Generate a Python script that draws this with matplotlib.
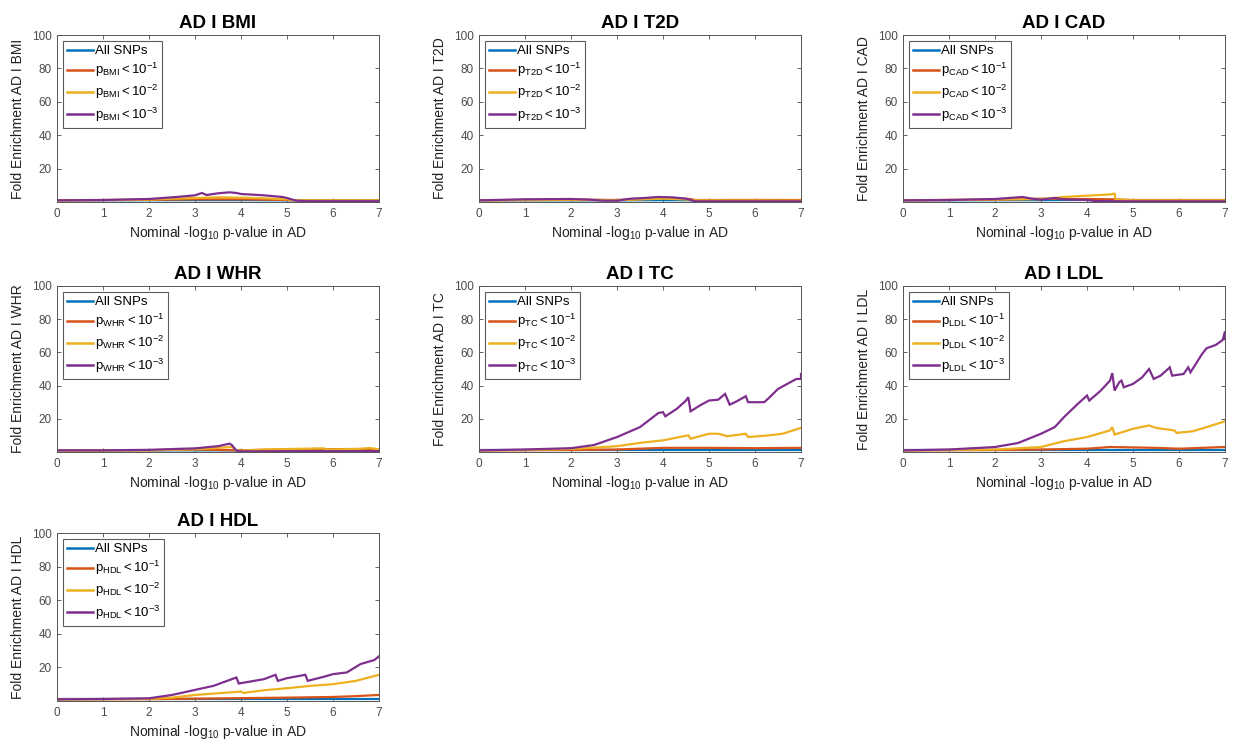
import matplotlib
matplotlib.use("Agg")
import matplotlib.pyplot as plt
from matplotlib.lines import Line2D

plt.rcParams['font.family'] = ['Liberation Sans', 'DejaVu Sans']
plt.rcParams['mathtext.fontset'] = 'custom'
plt.rcParams['mathtext.rm'] = 'Liberation Sans'
plt.rcParams['mathtext.it'] = 'Liberation Sans'

# ---------------- data ----------------
traits = ["BMI", "T2D", "CAD", "WHR", "TC", "LDL", "HDL"]
series_names = ["All SNPs", "p < 1e-1", "p < 1e-2", "p < 1e-3"]
xticks = [0, 1, 2, 3, 4, 5, 6, 7]
yticks = [20, 40, 60, 80, 100]

# BMI
bmi_all_x = [0, 3, 4, 5, 7]
bmi_all_y = [1, 1.1, 1.1, 1, 1]
bmi_p1_x = [0, 2, 3, 4, 5, 5.2, 7]
bmi_p1_y = [1, 1.3, 1.6, 1.6, 1.2, 1, 1]
bmi_p2_x = [0, 2, 2.5, 3, 3.5, 4, 4.5, 5, 5.2, 7]
bmi_p2_y = [1, 1.4, 2, 2.4, 2.8, 2.6, 2.2, 1.6, 1, 1]
bmi_p3_x = [0, 1, 2, 2.6, 3.0, 3.15, 3.25, 3.5, 3.75, 3.9, 4.0, 4.5, 4.9, 5.0, 5.2, 5.4, 7]
bmi_p3_y = [1, 1.2, 1.8, 3, 4, 5.4, 4.2, 5.2, 5.8, 5.4, 4.8, 4, 3, 2.4, 0.8, 0.5, 0.5]

# T2D
t2d_all_x = [0, 3, 4, 5, 7]
t2d_all_y = [1, 1, 1.1, 1, 1]
t2d_p1_x = [0, 1, 2, 3, 3.5, 4, 4.6, 4.7, 6.5, 7]
t2d_p1_y = [1, 1.3, 1.5, 1.2, 1.8, 2.2, 1.8, 1.2, 1.2, 1.2]
t2d_p2_x = [0, 2, 3, 3.5, 4, 4.5, 4.7, 7]
t2d_p2_y = [1, 1.2, 1.1, 1.5, 2, 1.5, 1, 0.8]
t2d_p3_x = [0, 1, 2, 2.4, 2.7, 3.0, 3.3, 3.6, 3.9, 4.2, 4.5, 4.7, 7]
t2d_p3_y = [1, 1.6, 1.8, 1.4, 0.8, 0.8, 2, 2.4, 3, 2.8, 2, 0.4, 0.4]

# CAD
cad_all_x = [0, 3, 3.5, 4.2, 4.4, 7]
cad_all_y = [1, 1.1, 1.2, 1.2, 1, 1]
cad_p1_x = [0, 1, 2, 3, 3.5, 4, 4.6, 5, 7]
cad_p1_y = [1, 1.2, 1.4, 2, 1.8, 1.8, 1.6, 1.2, 1.2]
cad_p2_x = [0, 2, 3, 3.5, 4, 4.5, 4.6, 4.62, 5, 7]
cad_p2_y = [1, 1.5, 1.7, 3, 3.8, 4.5, 5, 1.5, 1, 1]
cad_p3_x = [0, 1, 2, 2.6, 2.8, 3.0, 3.3, 3.5, 4.0, 4.2, 5, 7]
cad_p3_y = [1, 1.2, 1.8, 3, 2, 1.4, 2.4, 1.6, 1.2, 0.5, 0.4, 0.4]

# WHR
whr_all_x = [0, 3.9, 4.0, 7]
whr_all_y = [1, 1, 0.6, 0.6]
whr_p1_x = [0, 2, 3, 3.9, 4.5, 5, 6.5, 7]
whr_p1_y = [1, 1.1, 1.5, 1, 1.3, 1.6, 1.8, 1.4]
whr_p2_x = [0, 2, 3, 3.5, 3.8, 3.9, 4.0, 4.5, 5, 5.8, 5.85, 6.5, 6.8, 7]
whr_p2_y = [1, 1, 1.6, 2.5, 3, 1, 0.8, 1.5, 1.8, 2.2, 1.5, 1.8, 2.4, 1.6]
whr_p3_x = [0, 1, 2, 3, 3.5, 3.75, 3.8, 3.9, 4.0, 7]
whr_p3_y = [1, 1, 1.3, 2.2, 3.5, 5, 4.2, 0.8, 0.4, 0.5]

# TC
tc_all_x = [0, 3, 5, 7]
tc_all_y = [1, 1, 1, 1]
tc_p1_x = [0, 2, 3, 4, 5, 6, 7]
tc_p1_y = [1, 1.2, 1.5, 2.5, 2.5, 2.3, 2.5]
tc_p2_x = [0, 1, 2, 2.5, 3, 3.5, 4, 4.5, 4.55, 4.6, 5.0, 5.2, 5.4, 5.8, 5.85, 6.3, 6.6, 7]
tc_p2_y = [1, 1.2, 1.8, 2.6, 3.5, 5.5, 7, 9.8, 10, 8, 11, 11, 9.5, 11, 9, 10, 11, 14.5]
tc_p3_x = [0, 1, 2, 2.5, 3, 3.5, 3.9, 4.0, 4.05, 4.3, 4.5, 4.55, 4.6, 4.8, 5.0, 5.2, 5.35, 5.45, 5.6,
           5.8, 5.85, 6.2, 6.3, 6.5, 6.7, 6.9, 7.0, 7.0]
tc_p3_y = [1, 1.5, 2.3, 4.2, 9, 15, 23.5, 24, 21.5, 26, 31, 33, 24.5, 28, 31, 31.5, 35, 28.5, 30.5,
           33.6, 30, 30, 32.5, 38, 41, 44, 44, 47]

# LDL
ldl_all_x = [0, 3, 5, 7]
ldl_all_y = [1, 1, 1, 1]
ldl_p1_x = [0, 2, 3, 4, 4.5, 5.5, 6, 7]
ldl_p1_y = [1, 1.2, 1.5, 2, 3, 2.5, 2, 3]
ldl_p2_x = [0, 1, 2, 2.5, 3, 3.5, 4, 4.5, 4.55, 4.6, 5.0, 5.35, 5.5, 5.9, 5.95, 6.3, 6.6, 7.0]
ldl_p2_y = [1, 1.2, 1.5, 2.2, 3, 6.5, 9, 13, 15, 10.5, 14, 16, 14.5, 13, 11.5, 12.5, 15, 18.5]
ldl_p3_x = [0, 1, 2, 2.5, 3, 3.3, 3.5, 3.8, 4.0, 4.05, 4.3, 4.5, 4.55, 4.6, 4.7, 4.75, 4.8, 5.0,
            5.2, 5.35, 5.45, 5.6, 5.8, 5.85, 6.1, 6.2, 6.25, 6.5, 6.6, 6.8, 6.95, 7.0, 7.0]
ldl_p3_y = [1, 1.5, 3, 5.4, 11, 15, 21, 29, 34, 31, 37, 43, 47.5, 37, 42, 43, 39, 41,
            45, 50, 44, 46, 51, 46, 47, 51, 48, 59, 62.5, 64.5, 67.5, 72.5, 68]

# HDL
hdl_all_x = [0, 3, 5, 7]
hdl_all_y = [1, 1, 1, 1]
hdl_p1_x = [0, 2, 3, 4, 5, 6, 6.5, 7]
hdl_p1_y = [1, 1.1, 1.4, 1.7, 2, 2.4, 2.9, 3.6]
hdl_p2_x = [0, 1, 2, 2.5, 3, 3.5, 4, 4.05, 4.5, 5, 5.5, 6, 6.5, 7]
hdl_p2_y = [1, 1.1, 1.3, 2, 3.6, 4.6, 5.6, 4.8, 6.4, 7.6, 9, 10, 12, 15.6]
hdl_p3_x = [0, 1, 2, 2.5, 3, 3.4, 3.9, 3.95, 4.5, 4.75, 4.8, 5.0, 5.4, 5.45, 5.8, 6.0, 6.3, 6.6,
            6.9, 7.0]
hdl_p3_y = [1, 1.2, 1.6, 3.6, 6.6, 9, 14, 10.4, 13, 15.6, 12, 13.6, 15.6, 12, 14.4, 16, 17, 22,
            24.4, 26.6]

panel_series = {
    "BMI": [(bmi_all_x, bmi_all_y), (bmi_p1_x, bmi_p1_y), (bmi_p2_x, bmi_p2_y), (bmi_p3_x, bmi_p3_y)],
    "T2D": [(t2d_all_x, t2d_all_y), (t2d_p1_x, t2d_p1_y), (t2d_p2_x, t2d_p2_y), (t2d_p3_x, t2d_p3_y)],
    "CAD": [(cad_all_x, cad_all_y), (cad_p1_x, cad_p1_y), (cad_p2_x, cad_p2_y), (cad_p3_x, cad_p3_y)],
    "WHR": [(whr_all_x, whr_all_y), (whr_p1_x, whr_p1_y), (whr_p2_x, whr_p2_y), (whr_p3_x, whr_p3_y)],
    "TC": [(tc_all_x, tc_all_y), (tc_p1_x, tc_p1_y), (tc_p2_x, tc_p2_y), (tc_p3_x, tc_p3_y)],
    "LDL": [(ldl_all_x, ldl_all_y), (ldl_p1_x, ldl_p1_y), (ldl_p2_x, ldl_p2_y), (ldl_p3_x, ldl_p3_y)],
    "HDL": [(hdl_all_x, hdl_all_y), (hdl_p1_x, hdl_p1_y), (hdl_p2_x, hdl_p2_y), (hdl_p3_x, hdl_p3_y)],
}

# ---------------- styling / layout ----------------
colors = ["#0072BD", "#D95319", "#EDB120", "#7E2F8E"]
W, H = 1235, 745
col_left = [57, 479, 903]
row_box = [(35, 202), (286, 452), (533, 701)]
axw = 322
grid_pos = {"BMI": (0, 0), "T2D": (0, 1), "CAD": (0, 2),
            "WHR": (1, 0), "TC": (1, 1), "LDL": (1, 2), "HDL": (2, 0)}

fig = plt.figure(figsize=(W / 100, H / 100), dpi=100)
axis_grey = "#4a4a4a"

for trait in traits:
    r, c = grid_pos[trait]
    top, bot = row_box[r]
    ax = fig.add_axes([col_left[c] / W, 1 - bot / H, axw / W, (bot - top) / H])
    for (xs, ys), col in zip(panel_series[trait], colors):
        ax.plot(xs, ys, color=col, lw=1.6, solid_joinstyle='miter')
    ax.set_xlim(0, 7)
    ax.set_ylim(0, 100)
    ax.set_xticks(xticks)
    ax.set_yticks(yticks)
    ax.tick_params(direction='in', top=True, right=True, length=3, width=0.6,
                   labelsize=8.5, colors=axis_grey, pad=4)
    for sp in ax.spines.values():
        sp.set_linewidth(0.7)
        sp.set_color("#555555")
    ax.set_title(f"AD I {trait}", fontsize=13.5, fontweight='bold', pad=5)
    ax.set_xlabel(r"Nominal -log$_{\mathregular{10}}$ p-value in AD", fontsize=10,
                  labelpad=3, color="#222222")
    ax.set_ylabel(f"Fold Enrichment AD I {trait}", fontsize=10, labelpad=5, color="#222222")
    labels = ["All SNPs"] + [
        r"$\mathregular{p_{%s} < 10^{-%d}}$" % (trait, k) for k in (1, 2, 3)]
    handles = [Line2D([0], [0], color=col, lw=1.8) for col in colors]
    leg = ax.legend(handles, labels, loc='upper left', fontsize=9.5, frameon=True,
                    fancybox=False, edgecolor='#333333', borderaxespad=0.45,
                    handlelength=2.0, handletextpad=0.1, labelspacing=0.3,
                    borderpad=0.3)
    leg.get_frame().set_linewidth(0.8)

fig.savefig("out.png", dpi=100)
